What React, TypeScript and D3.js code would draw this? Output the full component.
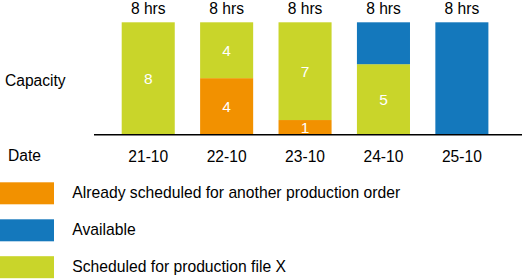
import React from "react";
import * as d3 from "d3";

const dates = ["21-10", "22-10", "23-10", "24-10", "25-10"];
const otherOrder = [0, 4, 1, 0, 0];
const scheduledX = [8, 4, 7, 5, 0];
const available = [0, 0, 0, 3, 8];
const capacity = [8, 8, 8, 8, 8];
const seriesNames = [
  "Already scheduled for another production order",
  "Available",
  "Scheduled for production file X",
];

const COLORS: Record<string, string> = {
  other: "#f29100",
  available: "#1478bc",
  scheduled: "#c9d52a",
};
const FONT = "'Liberation Sans', Arial, sans-serif";

export default function App() {
  const W = 523;
  const H = 279;
  const x = d3
    .scaleBand<string>()
    .domain(dates)
    .range([121.7, 488.4])
    .paddingInner(0.3234)
    .paddingOuter(0);
  const y = d3.scaleLinear().domain([0, 8]).range([134, 22.3]);

  const rows = dates.map((d, i) => ({
    date: d,
    other: otherOrder[i],
    scheduled: scheduledX[i],
    available: available[i],
  }));
  const keys = ["other", "scheduled", "available"];
  const stacked = d3.stack<any>().keys(keys)(rows);

  const legendKeys = ["other", "available", "scheduled"];
  const legendY = [182.3, 219.3, 256.2];

  return (
    <svg
      width={W}
      height={H}
      style={{ position: "absolute", left: 0, top: 0, background: "#fff" }}
      fontFamily={FONT}
    >
      <rect x={0} y={0} width={W} height={H} fill="#fff" />
      {stacked.map((layer) =>
        layer.map((seg, i) => {
          const v = seg[1] - seg[0];
          if (v <= 0) return null;
          const x0 = x(dates[i])!;
          const y0 = y(seg[1]);
          const y1 = y(seg[0]);
          return (
            <g key={layer.key + i}>
              <rect
                x={x0}
                y={y0}
                width={x.bandwidth()}
                height={y1 - y0}
                fill={COLORS[layer.key]}
              />
              {layer.key !== "available" && (
                <text
                  x={x0 + x.bandwidth() / 2}
                  y={(y0 + y1) / 2 + 5.5}
                  textAnchor="middle"
                  fill="#fff"
                  fontSize={15.5}
                >
                  {v}
                </text>
              )}
            </g>
          );
        })
      )}
      {capacity.map((c, i) => (
        <text
          key={"cap" + i}
          x={x(dates[i])! + x.bandwidth() / 2}
          y={14}
          textAnchor="middle"
          fill="#000"
          fontSize={15.6}
        >
          {`${c} hrs`}
        </text>
      ))}
      <line x1={94} x2={522} y1={134.8} y2={134.8} stroke="#000" strokeWidth={1.6} />
      {dates.map((d) => (
        <text
          key={"d" + d}
          x={x(d)! + x.bandwidth() / 2}
          y={161.5}
          textAnchor="middle"
          fill="#000"
          fontSize={15.6}
        >
          {d}
        </text>
      ))}
      <text x={5} y={86} fontSize={15.6} fill="#000">
        Capacity
      </text>
      <text x={8} y={161} fontSize={15.6} fill="#000">
        Date
      </text>
      {legendKeys.map((k, i) => (
        <g key={"lg" + k}>
          <rect x={0} y={legendY[i]} width={54} height={22} fill={COLORS[k]} />
          <text x={72.3} y={legendY[i] + 16} fontSize={15.7} fill="#000">
            {seriesNames[i]}
          </text>
        </g>
      ))}
    </svg>
  );
}
